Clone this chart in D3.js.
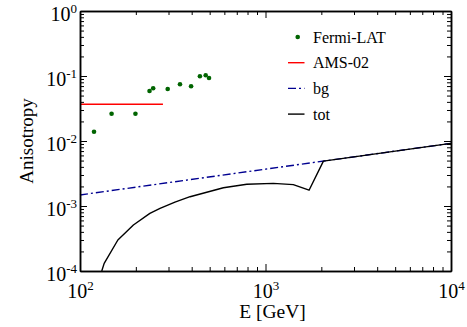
<!DOCTYPE html>
<html>
<head>
<meta charset="utf-8">
<script src="https://cdn.jsdelivr.net/npm/d3@7/dist/d3.min.js"></script>
<style>
  html, body { margin: 0; padding: 0; background: #fff; }
  svg { display: block; }
</style>
</head>
<body>
<div id="chart"></div>
<script>
// ── Data ───────────────────────────────────────────────────────
const fermiE = [119, 148, 199, 237, 248, 297, 346, 397, 443, 476, 496];
const fermiA = [0.0139, 0.0263, 0.0263, 0.0588, 0.0647, 0.063, 0.0745, 0.0695, 0.0989, 0.1025, 0.0932];

const amsE = [100, 280];
const amsA = [0.0367, 0.0367];

const bgE = [100, 10000];
const bgA = [1.48e-3, 9.2e-3];

const totE = [131, 135, 160, 194, 238, 270, 325, 392, 593, 793, 1102, 1412, 1717, 2052, 10000];
const totA = [1.0e-4, 1.31e-4, 3.0e-4, 5.1e-4, 7.7e-4, 9.2e-4, 1.15e-3, 1.39e-3, 1.91e-3, 2.16e-3, 2.23e-3, 2.13e-3, 1.75e-3, 4.9e-3, 9.2e-3];

const xMajor = [1e2, 1e3, 1e4];
const xMajorExp = ['2', '3', '4'];
const yMajor = [1e-4, 1e-3, 1e-2, 1e-1, 1];
const yMajorExp = ['-4', '-3', '-2', '-1', '0'];

const legendLabels = ['Fermi-LAT', 'AMS-02', 'bg', 'tot'];

// ── Layout ─────────────────────────────────────────────────────
const W = 467, H = 327;
const pL = 80, pR = 451, pT = 11, pB = 271;
const serif = "'Liberation Serif', 'Times New Roman', serif";

const svg = d3.select('#chart').append('svg')
  .attr('width', W).attr('height', H);

const x = d3.scaleLog().domain([1e2, 1e4]).range([pL, pR]);
const y = d3.scaleLog().domain([1e-4, 1]).range([pB, pT]);

const isMajor = (arr, v) => arr.some(m => Math.abs(m - v) / m < 1e-9);
const xMinor = x.ticks().filter(v => !isMajor(xMajor, v));
const yMinor = y.ticks().filter(v => !isMajor(yMajor, v));

// ── Curves ─────────────────────────────────────────────────────
const line = d3.line().x(d => x(d[0])).y(d => y(d[1]));
const plot = svg.append('g');

plot.append('path')
  .datum(bgE.map((e, i) => [e, bgA[i]]))
  .attr('d', line).attr('fill', 'none')
  .attr('stroke', '#000090').attr('stroke-width', 1.4)
  .attr('stroke-dasharray', '8,3,2,3');

plot.append('path')
  .datum(totE.map((e, i) => [e, totA[i]]))
  .attr('d', line).attr('fill', 'none')
  .attr('stroke', '#000').attr('stroke-width', 1.4)
  .attr('stroke-linejoin', 'round');

plot.append('path')
  .datum(amsE.map((e, i) => [e, amsA[i]]))
  .attr('d', line).attr('fill', 'none')
  .attr('stroke', '#ff0000').attr('stroke-width', 1.4);

plot.selectAll('.fermi')
  .data(fermiE.map((e, i) => [e, fermiA[i]]))
  .enter().append('circle')
  .attr('class', 'fermi')
  .attr('cx', d => x(d[0])).attr('cy', d => y(d[1]))
  .attr('r', 2.3).attr('fill', '#006400');

// ── Axes (inside ticks on all four sides) ──────────────────────
function styleAxis(g) {
  g.selectAll('line').attr('stroke', '#000').attr('stroke-width', 1);
  g.selectAll('path.domain').attr('stroke', '#000').attr('stroke-width', 1.5);
}

function sup(textSel, exps, majors) {
  textSel.each(function(d) {
    const t = d3.select(this);
    const i = majors.findIndex(m => Math.abs(m - d) / m < 1e-9);
    t.text(null);
    t.append('tspan').text('10');
    t.append('tspan').attr('dy', -8).attr('font-size', 13).text(exps[i]);
  });
}

// bottom
svg.append('g').attr('transform', `translate(0,${pB})`)
  .call(d3.axisBottom(x).tickValues(xMinor).tickSizeInner(-4).tickSizeOuter(0).tickFormat(''))
  .call(styleAxis);
const xAx = svg.append('g').attr('transform', `translate(0,${pB})`)
  .call(d3.axisBottom(x).tickValues(xMajor).tickSizeInner(-7).tickSizeOuter(0).tickFormat(d => d))
  .call(styleAxis);
xAx.selectAll('text')
  .attr('y', 26.5).attr('dy', null)
  .attr('fill', '#000').attr('font-family', serif).attr('font-size', 20)
  .call(sup, xMajorExp, xMajor);

// top
svg.append('g').attr('transform', `translate(0,${pT})`)
  .call(d3.axisTop(x).tickValues(xMinor).tickSizeInner(-4).tickSizeOuter(0).tickFormat(''))
  .call(styleAxis);
svg.append('g').attr('transform', `translate(0,${pT})`)
  .call(d3.axisTop(x).tickValues(xMajor).tickSizeInner(-7).tickSizeOuter(0).tickFormat(''))
  .call(styleAxis);

// left
svg.append('g').attr('transform', `translate(${pL},0)`)
  .call(d3.axisLeft(y).tickValues(yMinor).tickSizeInner(-4).tickSizeOuter(0).tickFormat(''))
  .call(styleAxis);
const yAx = svg.append('g').attr('transform', `translate(${pL},0)`)
  .call(d3.axisLeft(y).tickValues(yMajor).tickSizeInner(-7).tickSizeOuter(0).tickPadding(3).tickFormat(d => d))
  .call(styleAxis);
yAx.selectAll('text')
  .attr('y', 9).attr('dy', null)
  .attr('fill', '#000').attr('font-family', serif).attr('font-size', 20)
  .call(sup, yMajorExp, yMajor);

// right
svg.append('g').attr('transform', `translate(${pR},0)`)
  .call(d3.axisRight(y).tickValues(yMinor).tickSizeInner(-4).tickSizeOuter(0).tickFormat(''))
  .call(styleAxis);
svg.append('g').attr('transform', `translate(${pR},0)`)
  .call(d3.axisRight(y).tickValues(yMajor).tickSizeInner(-7).tickSizeOuter(0).tickFormat(''))
  .call(styleAxis);

// ── Axis titles ────────────────────────────────────────────────
svg.append('text')
  .attr('x', (pL + pR) / 2 + 7).attr('y', 318)
  .attr('text-anchor', 'middle')
  .attr('font-family', serif).attr('font-size', 19.5)
  .text('E [GeV]');

svg.append('text')
  .attr('transform', `translate(33,${(pT + pB) / 2}) rotate(-90)`)
  .attr('text-anchor', 'middle')
  .attr('font-family', serif).attr('font-size', 19)
  .text('Anisotropy');

// ── Legend ─────────────────────────────────────────────────────
const legend = svg.append('g').attr('transform', 'translate(288,37)');
const rowH = 25.7;
legendLabels.forEach((lab, i) => {
  const row = legend.append('g').attr('transform', `translate(0,${i * rowH})`);
  if (i === 0) {
    row.append('circle').attr('cx', 9.7).attr('cy', 0).attr('r', 2.3).attr('fill', '#006400');
  } else {
    const st = [null, '#ff0000', '#000090', '#000'][i];
    row.append('line')
      .attr('x1', 0).attr('x2', 16.5).attr('y1', 0).attr('y2', 0)
      .attr('stroke', st).attr('stroke-width', 1.4)
      .attr('stroke-dasharray', i === 2 ? '8,3,2,3' : null);
  }
  row.append('text')
    .attr('x', 25).attr('y', 5.7)
    .attr('font-family', serif).attr('font-size', 16)
    .attr('fill', '#000')
    .text(lab);
});
</script>
</body>
</html>
